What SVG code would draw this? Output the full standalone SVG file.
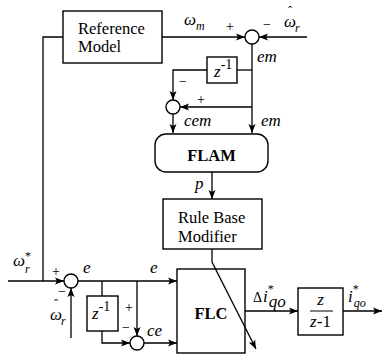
<svg xmlns="http://www.w3.org/2000/svg" width="383" height="355" viewBox="0 0 383 355">
<style>
.b{fill:#fff;stroke:#000;stroke-width:1.4}
.c{fill:none;stroke:#000;stroke-width:1.3}
.t{font-family:"Liberation Serif","Times New Roman",serif;font-size:16.5px;fill:#000}
.bd{font-weight:bold}
.i{font-family:"Liberation Serif","Times New Roman",serif;font-style:italic;font-size:17px;fill:#000}
.p{font-family:"Liberation Serif","Times New Roman",serif;font-size:14px;fill:#000}
.up{font-style:normal}
</style>
<defs>
<marker id="a" markerUnits="userSpaceOnUse" markerWidth="10" markerHeight="8" refX="9" refY="4" orient="auto">
<path d="M0,0.5 L9,4 L0,7.5 L2,4 Z" fill="#000"/>
</marker>
</defs>
<g id="connectors" class="c">
<path d="M162,37 H245" marker-end="url(#a)"/>
<path d="M307,37 H259" marker-end="url(#a)"/>
<path d="M252,44 V133" marker-end="url(#a)"/>
<path d="M252,70 H237"/>
<path d="M207,70 H173 V100" marker-end="url(#a)"/>
<path d="M252,107 H180" marker-end="url(#a)"/>
<path d="M173,114 V133" marker-end="url(#a)"/>
<path d="M212,172 V199" marker-end="url(#a)"/>
<path d="M212,249 V262 L256,349" marker-end="url(#a)"/>
<path d="M63,37 H43 V281"/>
<path d="M8,281 H64" marker-end="url(#a)"/>
<path d="M71,338 V288" marker-end="url(#a)"/>
<path d="M78,281 H177" marker-end="url(#a)"/>
<path d="M102,281 V296"/>
<path d="M102,331 V343 H130" marker-end="url(#a)"/>
<path d="M137,281 V336" marker-end="url(#a)"/>
<path d="M144,343 H177" marker-end="url(#a)"/>
<path d="M245,311 H298" marker-end="url(#a)"/>
<path d="M343,311 H382" marker-end="url(#a)"/>
</g>
<g id="refmodel">
<rect class="b" x="63" y="11" width="99" height="52"/>
<text class="t" x="78" y="34">Reference</text>
<text class="t" x="78" y="52">Model</text>
</g>
<g id="sum1">
<circle class="b" cx="252" cy="37" r="7"/>
</g>
<g id="zinv1">
<rect class="b" x="207" y="57" width="30" height="26"/>
<text class="i" x="214" y="77">z<tspan class="up" font-size="14" dy="-8">-1</tspan></text>
</g>
<g id="sum2">
<circle class="b" cx="173" cy="107" r="7"/>
</g>
<g id="flam">
<rect class="b" x="155" y="134" width="113" height="38" rx="11"/>
<text class="t bd" x="211.5" y="161" text-anchor="middle">FLAM</text>
</g>
<g id="rbm">
<rect class="b" x="163" y="199" width="99" height="50"/>
<text class="t" x="178" y="223">Rule Base</text>
<text class="t" x="178" y="242">Modifier</text>
</g>
<g id="sum3">
<circle class="b" cx="71" cy="281" r="7"/>
</g>
<g id="zinv2">
<rect class="b" x="87" y="296" width="31" height="35"/>
<text class="i" x="92" y="319">z<tspan class="up" font-size="14" dy="-8">-1</tspan></text>
</g>
<g id="sum4">
<circle class="b" cx="137" cy="343" r="7"/>
</g>
<g id="flc">
<rect class="b" x="177" y="269" width="68" height="84" fill-opacity="0"/>
<text class="t bd" x="211" y="319" text-anchor="middle">FLC</text>
</g>
<g id="integ">
<rect class="b" x="298" y="288" width="45" height="47"/>
<text class="i" x="320.5" y="305" text-anchor="middle">z</text>
<line x1="310" y1="311" x2="333" y2="311" stroke="#000" stroke-width="1"/>
<text class="i" x="320.5" y="327" text-anchor="middle">z<tspan class="up">-1</tspan></text>
</g>
<g id="labels">
<text class="i" x="184" y="25">ω<tspan font-size="12" dy="5">m</tspan></text>
<text class="p" x="226" y="31">+</text>
<text class="p" x="263" y="29">−</text>
<text class="i" x="284" y="27">ω<tspan class="up" font-size="12" dx="-8" dy="-12">ˆ</tspan><tspan font-size="12" dx="3" dy="17">r</tspan></text>
<text class="i" x="257" y="62">em</text>
<text class="p" x="179" y="86">−</text>
<text class="p" x="197" y="104">+</text>
<text class="i" x="184" y="126">cem</text>
<text class="i" x="261" y="126">em</text>
<text class="i" x="195" y="189">p</text>
<text class="i" x="13" y="266">ω<tspan class="up" font-size="12" dy="-6">*</tspan><tspan font-size="12" dx="-6" dy="13">r</tspan></text>
<text class="p" x="52" y="276">+</text>
<text class="i" x="83" y="273">e</text>
<text class="i" x="150" y="273">e</text>
<text class="p" x="58" y="296">−</text>
<text class="i" x="50" y="320">ω<tspan class="up" font-size="12" dx="-8" dy="-12">ˆ</tspan><tspan font-size="12" dx="3" dy="17">r</tspan></text>
<text class="p" x="125" y="312">+</text>
<text class="p" x="122" y="332">−</text>
<text class="i" x="147" y="336">ce</text>
<text class="p" x="253" y="302">Δ<tspan class="i" dx="1">i</tspan><tspan font-size="12" dy="-9">*</tspan><tspan class="i" font-size="12" dx="-5" dy="14">qo</tspan></text>
<text class="i" x="348" y="302">i<tspan class="up" font-size="12" dy="-9">*</tspan><tspan font-size="12" dx="-5" dy="14">qo</tspan></text>
</g>
</svg>
